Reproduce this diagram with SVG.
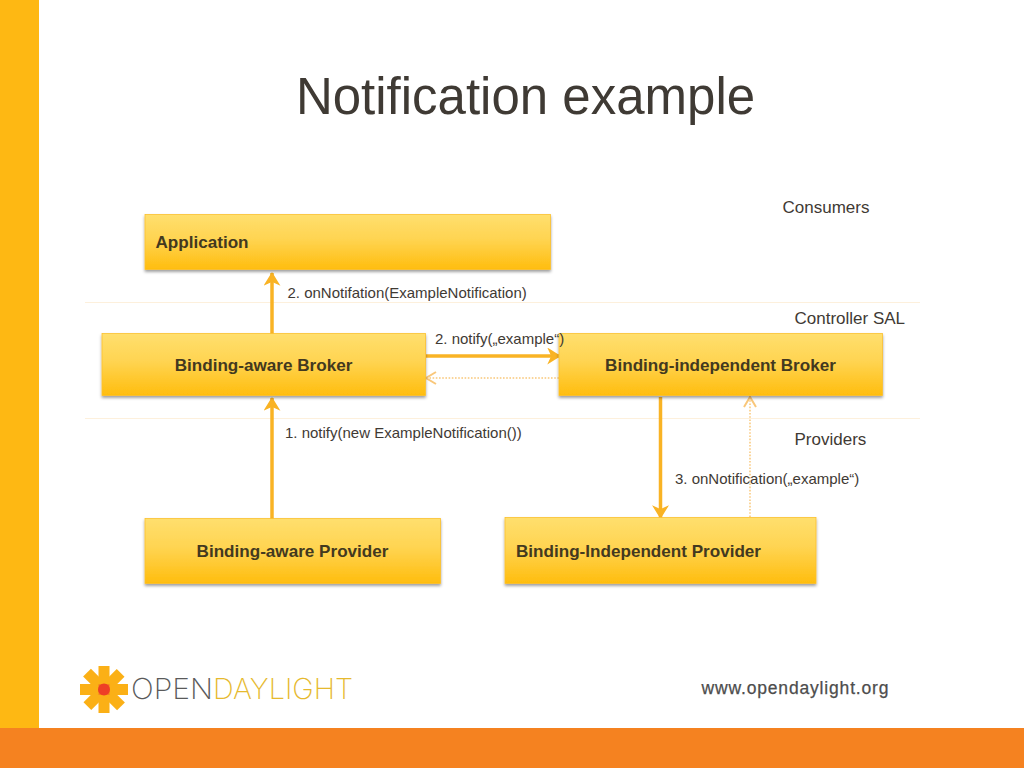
<svg xmlns="http://www.w3.org/2000/svg" width="1024" height="768" viewBox="0 0 1024 768">
<style>
text{font-family:"Liberation Sans",Arial,sans-serif;fill:#3f3a34}
.l{font-size:15px}
.s{font-size:17px}
.n{font-size:17.1px;font-weight:bold;fill:#43391f}
.box{fill:url(#g);stroke:#fcc02e;stroke-width:0.8;filter:url(#s)}
.a{fill:none;stroke:#f9b324;stroke-width:3.5}
.d{fill:none;stroke:#f9c77a;stroke-width:1.5;stroke-dasharray:1.6 1.6}
</style>
<defs>
<linearGradient id="g" x1="0" y1="0" x2="0" y2="1"><stop offset="0" stop-color="#ffdf6e"/><stop offset="0.45" stop-color="#ffd451"/><stop offset="1" stop-color="#ffbd0e"/></linearGradient>
<filter id="s" x="-5%" y="-10%" width="110%" height="125%"><feDropShadow dx="0" dy="2" stdDeviation="1.6" flood-color="#000" flood-opacity="0.38"/></filter>
<marker id="h" markerUnits="userSpaceOnUse" markerWidth="18" markerHeight="18" refX="13" refY="8" orient="auto"><path d="M2 1.500L12.500 8L2 14.500L5 8Z" fill="#f9b324" stroke="#f9b324" stroke-width="1.500"/></marker>
<marker id="o" markerUnits="userSpaceOnUse" markerWidth="16" markerHeight="16" refX="12" refY="7" orient="auto"><path d="M2 1L12 7L2 13" fill="none" stroke="#f9c77a" stroke-width="2"/></marker>
</defs>
<rect width="1024" height="768" fill="#fff"/>
<rect id="sidebar" x="0" y="0" width="39" height="728" fill="#feb813"/>
<rect id="footer" x="0" y="728" width="1024" height="40" fill="#f58220"/>
<text x="525.500" y="114" text-anchor="middle" style="font-size:51px">Notification example</text>
<path d="M85 302.500H920M85 418.500H920" stroke="#fdf0dc" stroke-width="1" fill="none"/>
<g id="connectors">
<path class="a" d="M272 336V273" marker-end="url(#h)"/>
<path class="a" d="M272 519V398" marker-end="url(#h)"/>
<path class="a" d="M426 356H560" marker-end="url(#h)"/>
<path class="d" d="M559 378H426" marker-end="url(#o)"/>
<path class="a" d="M660.500 397V518" marker-end="url(#h)"/>
<path class="d" d="M750 517V397" marker-end="url(#o)"/>
</g>
<g id="application"><rect class="box" x="145" y="214.500" width="405.500" height="55"/><text class="n" x="155.500" y="248">Application</text></g>
<g id="binding-aware-broker"><rect class="box" x="102" y="333.500" width="323.500" height="62"/><text class="n" x="263.500" y="371" text-anchor="middle">Binding-aware Broker</text></g>
<g id="binding-independent-broker"><rect class="box" x="559" y="333.500" width="323.500" height="62"/><text class="n" x="720.500" y="371" text-anchor="middle">Binding-independent Broker</text></g>
<g id="binding-aware-provider"><rect class="box" x="145" y="518.500" width="295.500" height="65"/><text class="n" x="292.500" y="557" text-anchor="middle">Binding-aware Provider</text></g>
<g id="binding-independent-provider"><rect class="box" x="505" y="517.500" width="311" height="66"/><text class="n" x="516" y="557">Binding-Independent Provider</text></g>
<text class="l" x="287.500" y="298">2. onNotifation(ExampleNotification)</text>
<text class="l" x="435" y="344">2. notify(„example“)</text>
<text class="l" x="285" y="438">1. notify(new ExampleNotification())</text>
<text class="l" x="675" y="484">3. onNotification(„example“)</text>
<text class="s" x="782.500" y="213">Consumers</text>
<text class="s" x="794.500" y="324">Controller SAL</text>
<text class="s" x="794.500" y="445">Providers</text>
<g id="logo">
<g fill="#fbb016"><rect x="98.500" y="666" width="11" height="47"/><rect x="80" y="684" width="48" height="11"/><rect x="98.500" y="666" width="11" height="47" transform="rotate(45 104 689.500)"/><rect x="80" y="684" width="48" height="11" transform="rotate(45 104 689.500)"/></g>
<path d="M98.500 684H109.500V695H98.500Z" fill="#f3851f"/>
<circle cx="104" cy="689.500" r="6" fill="#ee3f26"/>
<text x="131" y="699" style="font-family:Inter,sans-serif;font-size:29px;font-weight:200;fill:#5a5a5a" textLength="82" lengthAdjust="spacingAndGlyphs">OPEN</text>
<text x="213" y="699" style="font-family:Inter,sans-serif;font-size:29px;font-weight:200;fill:#e6b92e" textLength="140" lengthAdjust="spacingAndGlyphs">DAYLIGHT</text>
</g>
<text x="701.500" y="694" style="font-size:17.500px;fill:#4d4d4d;stroke:#4d4d4d;stroke-width:0.25" textLength="187">www.opendaylight.org</text>
</svg>
